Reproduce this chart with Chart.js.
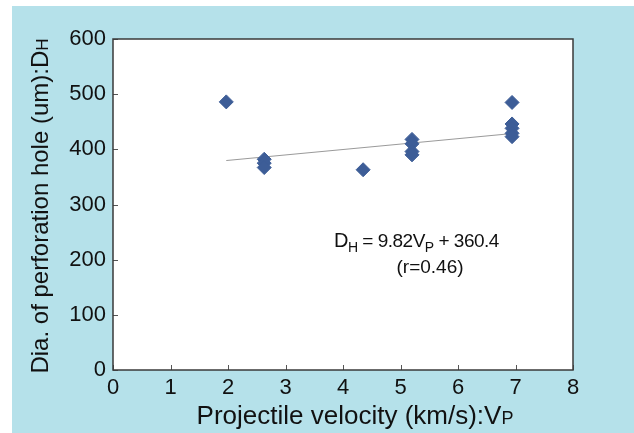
<!DOCTYPE html>
<html>
<head>
<meta charset="utf-8">
<script src="https://cdn.jsdelivr.net/npm/chart.js@4/dist/chart.umd.min.js"></script>
<style>
    html, body { margin: 0; padding: 0; background: #ffffff; }
    #wrap { width: 634px; height: 433px; position: relative; }
</style>
</head>
<body>
<div id="wrap"><canvas id="velocityChart"></canvas></div>
<script>
const velocity = [1.97, 2.63, 2.63, 2.63, 4.35, 5.2, 5.2, 5.2, 5.2, 6.94, 6.94, 6.94, 6.94, 6.94];
const holeDia = [486, 382, 375, 367, 363, 418, 410, 396, 390, 485, 446, 438, 429, 423];

// regression line end points (as drawn)
const fitX = [1.97, 6.94];
const fitY = [379.7, 428.6];

const xTicks = [0, 1, 2, 3, 4, 5, 6, 7, 8];
const yTicks = [0, 100, 200, 300, 400, 500, 600];

const fontName = '"Liberation Sans", Arial, Helvetica, sans-serif';

// draw text runs, each run = [text, size, dy]
function drawRuns(ctx, runs, x, y, align) {
    let total = 0;
    runs.forEach(r => {
        ctx.font = r[1] + 'px ' + fontName;
        total += ctx.measureText(r[0]).width;
    });
    let cx = align === 'center' ? x - total / 2 : x;
    runs.forEach(r => {
        ctx.font = r[1] + 'px ' + fontName;
        ctx.fillText(r[0], cx, y + (r[2] || 0));
        cx += ctx.measureText(r[0]).width;
    });
}

const framePlugin = {
    id: 'framePlugin',
    beforeDraw(chart) {
        const ctx = chart.ctx;
        const a = chart.chartArea;
        ctx.save();
        ctx.fillStyle = '#b5e1ea';
        ctx.fillRect(12, 6, chart.width - 12, chart.height - 6);
        ctx.fillStyle = '#ffffff';
        ctx.fillRect(a.left, a.top, a.right - a.left, a.bottom - a.top);
        ctx.restore();
    },
    afterDraw(chart) {
        const ctx = chart.ctx;
        const a = chart.chartArea;
        const xs = chart.scales.x;
        const ys = chart.scales.y;
        ctx.save();
        // inward tick marks
        ctx.strokeStyle = '#555';
        ctx.lineWidth = 1;
        ctx.beginPath();
        xTicks.forEach(v => {
            const px = Math.round(xs.getPixelForValue(v)) + 0.5;
            ctx.moveTo(px, a.bottom);
            ctx.lineTo(px, a.bottom - 5);
        });
        yTicks.forEach(v => {
            const py = Math.round(ys.getPixelForValue(v)) + 0.5;
            ctx.moveTo(a.left, py);
            ctx.lineTo(a.left + 5, py);
        });
        ctx.stroke();

        // plot box
        ctx.strokeStyle = '#3a3a3a';
        ctx.lineWidth = 1.5;
        ctx.strokeRect(a.left, a.top, a.right - a.left, a.bottom - a.top);

        // axis titles
        ctx.fillStyle = '#111';
        ctx.textBaseline = 'alphabetic';
        drawRuns(ctx, [['Projectile velocity (km/s):V', 26], ['P', 18]], 355, 424, 'center');

        ctx.save();
        ctx.translate(48, 206);
        ctx.rotate(-Math.PI / 2);
        drawRuns(ctx, [['Dia. of perforation hole (um):D', 24], ['H', 17]], 0, 0, 'center');
        ctx.restore();

        // fit equation
        ctx.letterSpacing = '-0.5px';
        drawRuns(ctx, [['D', 20], ['H', 14, 5], [' = 9.82V', 19], ['P', 14, 5], [' + 360.4', 19]], 334, 247, 'left');
        ctx.letterSpacing = '0px';
        drawRuns(ctx, [['(r=0.46)', 19]], 430, 273, 'center');
        ctx.restore();
    }
};

const chartItem = document.getElementById('velocityChart');
if (chartItem) {
    const chart = new Chart(chartItem, {
        type: 'scatter',
        data: {
            datasets: [{
                label: 'D_H',
                data: velocity.map((v, i) => ({ x: v, y: holeDia[i] })),
                pointStyle: 'rectRot',
                pointRadius: 7,
                backgroundColor: '#3d5d97',
                borderColor: '#3d5d97',
                borderWidth: 1
            },
            {
                label: 'fit',
                type: 'line',
                data: fitX.map((v, i) => ({ x: v, y: fitY[i] })),
                borderColor: '#9a9a9a',
                borderWidth: 1,
                pointRadius: 0,
                fill: false
            }]
        },
        options: {
            responsive: true,
            maintainAspectRatio: false,
            animation: false,
            layout: {
                padding: { left: 53, top: 39, right: 61, bottom: 0 }
            },
            plugins: {
                legend: { display: false },
                tooltip: { enabled: false }
            },
            scales: {
                x: {
                    type: 'linear',
                    min: 0,
                    max: 8,
                    afterFit: s => { s.height = 63; },
                    afterBuildTicks: s => { s.ticks = xTicks.map(v => ({ value: v })); },
                    border: { display: false },
                    grid: { display: false, drawTicks: false },
                    ticks: {
                        padding: 5,
                        color: '#111',
                        font: { family: fontName, size: 22 }
                    }
                },
                y: {
                    min: 0,
                    max: 600,
                    afterFit: s => { s.width = 60; },
                    afterBuildTicks: s => { s.ticks = yTicks.map(v => ({ value: v })); },
                    border: { display: false },
                    grid: { display: false, drawTicks: false },
                    ticks: {
                        padding: 7,
                        color: '#111',
                        font: { family: fontName, size: 22 }
                    }
                }
            }
        },
        plugins: [framePlugin]
    });
}
</script>
</body>
</html>
